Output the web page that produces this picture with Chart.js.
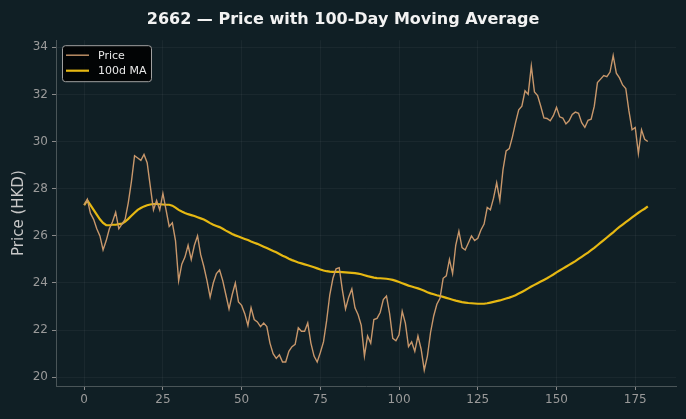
<!DOCTYPE html>
<html>
<head>
<meta charset="utf-8">
<script src="https://cdn.jsdelivr.net/npm/chart.js@4.4.1/dist/chart.umd.min.js"></script>
<style>
  html, body { margin: 0; padding: 0; background: #101f25; }
  #wrap { width: 686px; height: 419px; position: relative; }
</style>
</head>
<body>
<div id="wrap"><canvas id="maChart"></canvas></div>
<script>
// daily closing price, day 0..179
const price = [
  27.3, 27.55, 26.95, 26.7, 26.3, 26.0, 25.4, 25.8, 26.3, 26.6,
  27.0, 26.3, 26.5, 26.7, 27.4, 28.3, 29.4, 29.3, 29.2, 29.45,
  29.1, 28.1, 27.1, 27.5, 27.1, 27.8, 27.1, 26.4, 26.55, 25.8,
  24.1, 24.8, 25.1, 25.6, 25.0, 25.6, 26.0, 25.2, 24.7, 24.1,
  23.4, 24.0, 24.4, 24.55, 24.1, 23.5, 22.9, 23.5, 24.0, 23.2,
  23.05, 22.7, 22.2, 22.95, 22.45, 22.35, 22.15, 22.3, 22.15, 21.45,
  21.0, 20.8, 20.95, 20.65, 20.65, 21.1, 21.3, 21.4, 22.1, 21.95,
  21.95, 22.3, 21.45, 20.9, 20.65, 21.05, 21.5, 22.4, 23.5, 24.2,
  24.6, 24.65, 23.7, 22.9, 23.4, 23.75, 22.95, 22.65, 22.2, 20.9,
  21.75, 21.45, 22.45, 22.5, 22.75, 23.3, 23.45, 22.7, 21.65, 21.55,
  21.8, 22.8, 22.3, 21.3, 21.5, 21.1, 21.75, 21.2, 20.3, 20.9,
  21.9, 22.6, 23.1, 23.35, 24.2, 24.3, 25.0, 24.4, 25.6, 26.2,
  25.5, 25.4, 25.7, 26.0, 25.8, 25.9, 26.25, 26.5, 27.2, 27.1,
  27.6, 28.25, 27.5, 28.8, 29.6, 29.7, 30.2, 30.8, 31.35, 31.5,
  32.15, 32.0, 33.2, 32.1, 31.95, 31.5, 31.0, 30.98, 30.88, 31.1,
  31.45, 31.05, 31.0, 30.75, 30.88, 31.15, 31.25, 31.2, 30.8, 30.6,
  30.9, 30.95, 31.5, 32.5, 32.65, 32.8, 32.75, 32.95, 33.65, 32.9,
  32.7, 32.4, 32.25, 31.3, 30.5, 30.6, 29.5, 30.5, 30.1, 30.0
];

// 100-day moving average
const ma100 = [
  27.3, 27.5, 27.3, 27.1, 26.9, 26.7, 26.55, 26.45, 26.45, 26.47,
  26.47, 26.5, 26.52, 26.6, 26.72, 26.85, 26.98, 27.1, 27.18, 27.25,
  27.3, 27.33, 27.35, 27.35, 27.34, 27.33, 27.32, 27.32, 27.28, 27.2,
  27.1, 27.03, 26.97, 26.92, 26.88, 26.84, 26.79, 26.74, 26.69, 26.62,
  26.54, 26.47, 26.42, 26.37, 26.3, 26.22, 26.15, 26.08, 26.02, 25.97,
  25.92, 25.87, 25.82, 25.76, 25.71, 25.66, 25.6, 25.54, 25.48, 25.42,
  25.36, 25.3, 25.23, 25.16, 25.1, 25.03, 24.97, 24.92, 24.87, 24.83,
  24.79, 24.75, 24.71, 24.67, 24.62, 24.57, 24.53, 24.5, 24.48, 24.47,
  24.47, 24.47, 24.46, 24.45, 24.44, 24.43, 24.42, 24.4, 24.37, 24.33,
  24.29, 24.26, 24.23, 24.21, 24.2, 24.19, 24.18, 24.16, 24.13, 24.09,
  24.04, 23.99, 23.94, 23.89, 23.85, 23.81, 23.77, 23.72, 23.67, 23.61,
  23.56, 23.52, 23.48, 23.45, 23.41, 23.37, 23.33, 23.29, 23.25, 23.22,
  23.19, 23.17, 23.15, 23.14, 23.13, 23.12, 23.12, 23.12, 23.14, 23.17,
  23.2, 23.23, 23.26, 23.3, 23.34, 23.38, 23.43, 23.48, 23.55, 23.62,
  23.69, 23.77, 23.85, 23.92, 23.99, 24.06, 24.13, 24.2, 24.28, 24.36,
  24.45, 24.53, 24.61, 24.69, 24.77, 24.85, 24.93, 25.02, 25.11, 25.2,
  25.29, 25.39, 25.49, 25.6, 25.71, 25.82, 25.93, 26.04, 26.15, 26.27,
  26.38, 26.48, 26.58, 26.68, 26.78, 26.88, 26.98, 27.07, 27.15, 27.25
];

const xTicks = [0, 25, 50, 75, 100, 125, 150, 175];
const yTicks = [20, 22, 24, 26, 28, 30, 32, 34];

const BG = '#101f25';
const PRICE_COLOR = '#c8976b';
const MA_COLOR = '#e6b812';
const FONT = 'DejaVu Sans';

// paints figure background
const bgPlugin = {
  id: 'bg',
  beforeDraw(chart) {
    const c = chart.ctx;
    c.save();
    c.fillStyle = BG;
    c.fillRect(0, 0, chart.width, chart.height);
    c.restore();
  }
};

// matplotlib-style legend box inside the plot, upper left
const boxLegend = {
  id: 'boxLegend',
  afterDraw(chart) {
    const c = chart.ctx;
    const a = chart.chartArea;
    const x = a.left + 6, y = a.top + 5, w = 89, h = 36;
    c.save();
    c.beginPath();
    c.roundRect(x + 0.5, y + 0.5, w, h, 3);
    c.fillStyle = 'rgba(0,0,0,0.85)';
    c.fill();
    c.strokeStyle = '#a0a0a0';
    c.lineWidth = 1;
    c.stroke();
    c.font = '11px "' + FONT + '"';
    c.textBaseline = 'middle';
    chart.data.datasets.forEach((ds, i) => {
      const ry = y + 10 + i * 15.5;
      c.beginPath();
      c.moveTo(x + 4, ry);
      c.lineTo(x + 27, ry);
      c.strokeStyle = ds.borderColor;
      c.lineWidth = ds.borderWidth;
      c.stroke();
      c.fillStyle = '#e8e8e8';
      c.fillText(ds.label, x + 36, ry + 0.5);
    });
    c.restore();
  }
};

const ctx = document.getElementById('maChart').getContext('2d');

new Chart(ctx, {
  type: 'line',
  data: {
    datasets: [
      {
        label: 'Price',
        data: price.map((v, i) => ({ x: i, y: v })),
        borderColor: PRICE_COLOR,
        borderWidth: 1.4,
        pointRadius: 0,
        tension: 0
      },
      {
        label: '100d MA',
        data: ma100.map((v, i) => ({ x: i, y: v })),
        borderColor: MA_COLOR,
        borderWidth: 2.2,
        pointRadius: 0,
        tension: 0
      }
    ]
  },
  options: {
    responsive: true,
    maintainAspectRatio: false,
    animation: false,
    layout: { padding: { left: 10, right: 10, top: 0, bottom: 0 } },
    plugins: {
      legend: { display: false },
      tooltip: { enabled: false },
      title: {
        display: true,
        text: '2662 — Price with 100-Day Moving Average',
        color: '#f2f2f2',
        font: { family: FONT, size: 16, weight: 'bold' },
        padding: { top: 10, bottom: 11 }
      }
    },
    scales: {
      x: {
        type: 'linear',
        min: -8.95,
        max: 187.95,
        afterBuildTicks: s => { s.ticks = xTicks.map(v => ({ value: v })); },
        afterFit: s => { s.height = 33; },
        ticks: {
          color: '#9a9a9a',
          font: { family: FONT, size: 12 },
          padding: 3,
          maxRotation: 0
        },
        grid: {
          color: 'rgba(255,255,255,0.045)',
          tickColor: '#8a8a8a',
          tickLength: 4,
          drawTicks: true
        },
        border: { display: true, color: '#4a5558', width: 1 }
      },
      y: {
        type: 'linear',
        min: 19.63,
        max: 34.3,
        afterBuildTicks: s => { s.ticks = yTicks.map(v => ({ value: v })); },
        afterFit: s => { s.width = 46; },
        ticks: {
          color: '#9a9a9a',
          font: { family: FONT, size: 12 },
          padding: 4
        },
        grid: {
          color: 'rgba(255,255,255,0.045)',
          tickColor: '#8a8a8a',
          tickLength: 4
        },
        border: { display: true, color: '#4a5558', width: 1 },
        title: {
          display: true,
          text: 'Price (HKD)',
          color: '#c8c8c8',
          font: { family: FONT, size: 15 },
          padding: { top: 0, bottom: 0 }
        }
      }
    }
  },
  plugins: [bgPlugin, boxLegend]
});
</script>
</body>
</html>
